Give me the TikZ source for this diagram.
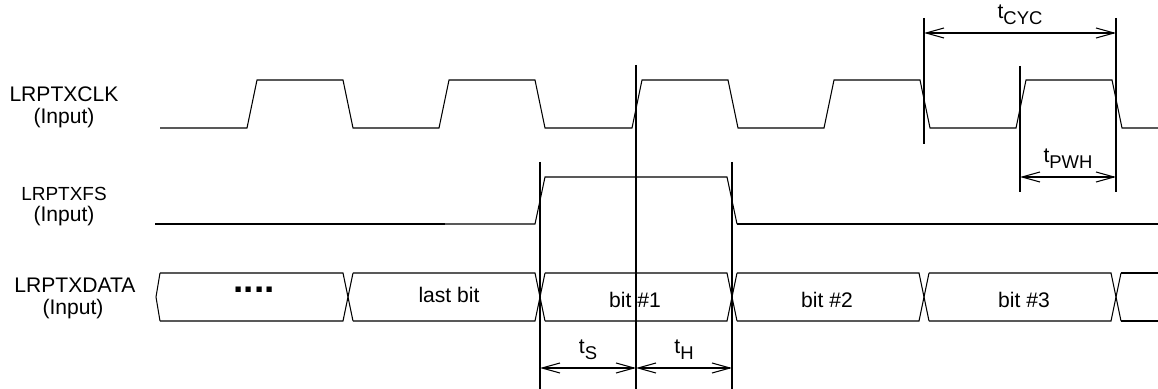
\documentclass[tikz,border=0pt]{standalone}
\usepackage{fontspec}
\setmainfont{Liberation Sans}
\usetikzlibrary{arrows.meta}
\newcommand{\tsub}[1]{t\raisebox{-0.5ex}{\fontsize{10.5}{11}\selectfont #1}}
\tikzset{
  wave/.style={line width=0.6pt},
  marker/.style={line width=1.1pt},
  barb/.tip={Straight Barb[length=3.6mm,width=2mm,line width=0.6pt]},
  dim/.style={line width=1.1pt,barb-barb},
}
\begin{document}
\begin{tikzpicture}[x=0.2mm,y=-0.2mm,font=\fontsize{12}{14}\selectfont]
    \useasboundingbox (0,0) rectangle (1158,389);

    \node (clk) at (64,94) {LRPTXCLK};
    \node (clkin) at (64,118) {(Input)};
    \node[font=\fontsize{10.8}{12}\selectfont,inner sep=1pt] (fs) at (64,194) {LRPTXFS};
    \node[inner sep=1pt] (fsin) at (64,216) {(Input)};
    \node (data) at (75,285) {LRPTXDATA};
    \node (datain) at (73,309) {(Input)};

    \draw[wave] (160,128) foreach \r in {247,439,632,824,1016} {-- (\r,128) -- (\r+10,80) -- (\r+96,80) -- (\r+106,128)} -- (1158,128);

    \draw[marker] (155,224) -- (445,224);
    \draw[wave] (445,224) -- (535,224) -- (545,177) -- (727,177) -- (737,224);
    \draw[marker] (737,224) -- (1158,224);

    \draw[wave] (160,273) -- (156,297) -- (160,321);
    \foreach \a/\b in {155/348,348/540,540/732,732/924,924/1116} {
        \draw[wave] (\a+5,273) -- (\b-5,273) -- (\b+5,321);
        \draw[wave] (\a+5,321) -- (\b-5,321) -- (\b+5,273);
    }
    \draw[marker] (1121,273) -- (1158,273);
    \draw[marker] (1121,321) -- (1158,321);

    \node[font=\bfseries\fontsize{21}{22}\selectfont] (dots) at (254,290) {....};
    \node (last) at (449,295) {last bit};
    \node (bit1) at (635,300) {bit \#1};
    \node (bit2) at (827,300) {bit \#2};
    \node (bit3) at (1024,300) {bit \#3};

    \foreach \x/\ya/\yb in {540/162/389,636/65/389,732/162/389,924/18/144,1116/18/192,1020/66/192}
        \draw[marker] (\x,\ya) -- (\x,\yb);

    \coordinate (ts1) at (540,368);
    \coordinate (ts2) at (636,368);
    \coordinate (th2) at (732,368);
    \coordinate (cyc1) at (924,33);
    \coordinate (cyc2) at (1116,33);
    \coordinate (pwh1) at (1020,177);
    \coordinate (pwh2) at (1116,177);

    \draw[dim] (ts1) -- node[above=1pt] (tslbl) {\tsub{S}} (ts2);
    \draw[dim] (ts2) -- node[above=1pt] (thlbl) {\tsub{H}} (th2);
    \draw[dim] (cyc1) -- node[above=1pt] (cyclbl) {\tsub{CYC}} (cyc2);
    \draw[dim] (pwh1) -- node[above=1pt] (pwhlbl) {\tsub{PWH}} (pwh2);
\end{tikzpicture}
\end{document}
